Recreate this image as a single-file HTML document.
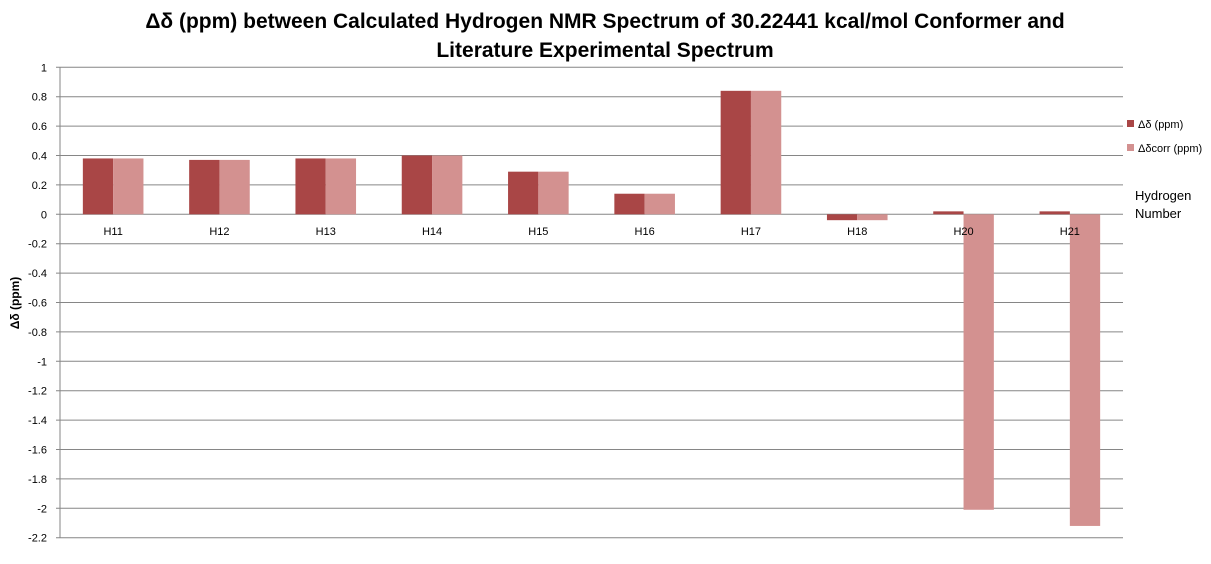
<!DOCTYPE html>
<html><head><meta charset="utf-8"><style>
body{margin:0;background:#fff;font-family:"Liberation Sans",sans-serif;}
svg text{font-family:"Liberation Sans",sans-serif;}
</style></head><body>
<svg width="1211" height="559">
<text x="605" y="28" text-anchor="middle" font-size="21" font-weight="bold" fill="#000">Δδ (ppm) between Calculated Hydrogen NMR Spectrum of 30.22441 kcal/mol Conformer and</text>
<text x="605" y="57" text-anchor="middle" font-size="21" font-weight="bold" fill="#000">Literature Experimental Spectrum</text>
<g id="grid"></g><g id="bars"></g><g id="axes"></g>
<text transform="translate(19,303) rotate(-90)" text-anchor="middle" font-size="12" font-weight="bold">Δδ (ppm)</text>
<rect x="1127" y="120" width="7" height="7" fill="#a94646"/>
<text x="1138" y="128" font-size="11">Δδ (ppm)</text>
<rect x="1127" y="144" width="7" height="7" fill="#d39190"/>
<text x="1138" y="152" font-size="11">Δδcorr (ppm)</text>
<text x="1135" y="200" font-size="13">Hydrogen</text>
<text x="1135" y="218" font-size="13">Number</text>
</svg>
<script>
const categories=["H11","H12","H13","H14","H15","H16","H17","H18","H20","H21"];
const dd=[0.38,0.37,0.38,0.40,0.29,0.14,0.84,-0.04,0.02,0.02];
const ddcorr=[0.38,0.37,0.38,0.40,0.29,0.14,0.84,-0.04,-2.01,-2.12];
const ticks=[1,0.8,0.6,0.4,0.2,0,-0.2,-0.4,-0.6,-0.8,-1,-1.2,-1.4,-1.6,-1.8,-2,-2.2];
const NS="http://www.w3.org/2000/svg";
const X0=60,X1=1123,Y0=67.3,Y1=537.7,vmax=1,vmin=-2.2;
const y=v=>Y0+(vmax-v)/(vmax-vmin)*(Y1-Y0);
const band=(X1-X0)/categories.length;
const x=i=>X0+i*band;
function mk(t,a,p){const e=document.createElementNS(NS,t);for(const k in a)e.setAttribute(k,a[k]);p.appendChild(e);return e;}
const g=document.getElementById('grid'),b=document.getElementById('bars'),ax=document.getElementById('axes');
ticks.forEach(v=>{
 const l=mk('line',{x1:X0-4,x2:X1,y1:y(v),y2:y(v),stroke:'#868686','stroke-width':1},g);
 
 
 const t=mk('text',{x:47,y:y(v)+4,'text-anchor':'end','font-size':11},ax);t.textContent=String(v);
 
 
});
const bw=30.3;
categories.forEach((c,i)=>{
 const cx=x(i)+band/2;
 [[dd,'#a94646',-bw],[ddcorr,'#d39190',0]].forEach(([s,col,off])=>{
  const v=s[i];
  const r=mk('rect',{x:cx+off,y:Math.min(y(v),y(0)),width:bw,height:Math.abs(y(v)-y(0)),fill:col},b);
  
  
 });
 const t=mk('text',{x:cx,y:235,'text-anchor':'middle','font-size':11},ax);t.textContent=c;
 
 
});
const yl=mk('line',{x1:X0,x2:X0,y1:Y0,y2:Y1,stroke:'#868686'},ax);


</script>
</body></html>
